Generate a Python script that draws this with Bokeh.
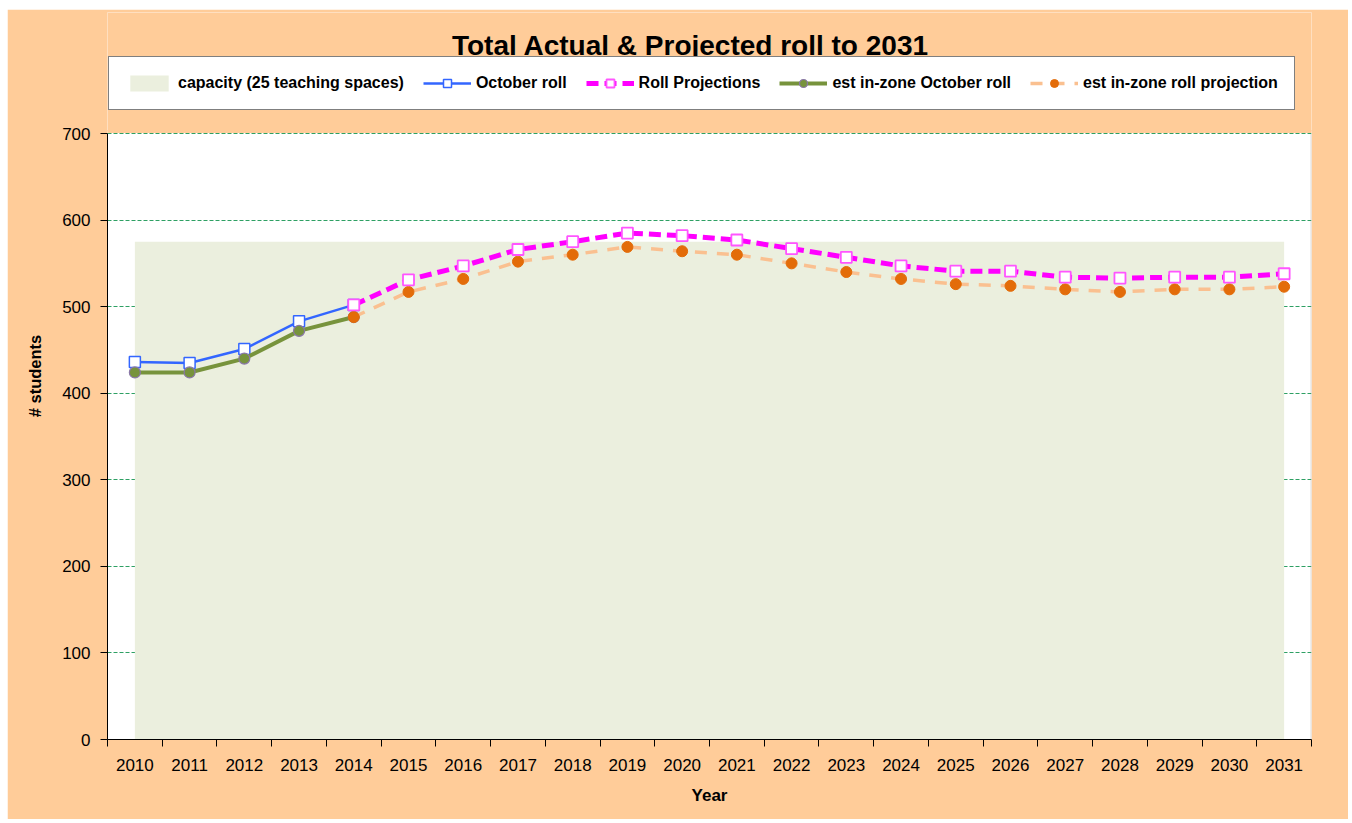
from bokeh.plotting import figure
from bokeh.models import Range1d, FixedTicker, Legend, LegendItem, Label, BoxAnnotation
from bokeh.embed import file_html
from bokeh.resources import INLINE

# ---- data ----
years = [2010, 2011, 2012, 2013, 2014, 2015, 2016, 2017, 2018, 2019, 2020,
         2021, 2022, 2023, 2024, 2025, 2026, 2027, 2028, 2029, 2030, 2031]
capacity = [575, 575, 575, 575, 575, 575, 575, 575, 575, 575, 575,
            575, 575, 575, 575, 575, 575, 575, 575, 575, 575, 575]

actual_years = [2010, 2011, 2012, 2013, 2014]
october_roll = [436, 435, 451, 483, 502]
inzone_october_roll = [424, 424, 440, 472, 488]

proj_years = [2014, 2015, 2016, 2017, 2018, 2019, 2020, 2021, 2022,
              2023, 2024, 2025, 2026, 2027, 2028, 2029, 2030, 2031]
roll_projections = [502, 531, 547, 566, 575, 585, 582, 577, 567,
                    557, 547, 541, 541, 534, 533, 534, 534, 538]
inzone_projection = [488, 517, 532, 552, 560, 569, 564, 560, 550,
                     540, 532, 526, 524, 520, 517, 520, 520, 523]

y_ticks = [0, 100, 200, 300, 400, 500, 600, 700]

FONT = "Liberation Sans"
ORANGE = "#FFCC99"

# layout (pixels): plot area 1204 x 606, with 121 px of header space
# kept inside the frame above the value 700 for the title and legend
Y_MAX = 700
PLOT_H = 606
HEADER_H = 121
y_top = Y_MAX + HEADER_H * Y_MAX / PLOT_H
px = Y_MAX / PLOT_H  # data units per pixel
x_lo = years[0] - 0.5
x_hi = years[-1] + 0.5

p = figure(frame_width=1204, frame_height=PLOT_H + HEADER_H,
           x_range=Range1d(x_lo, x_hi),
           y_range=Range1d(0, y_top),
           output_backend="svg", toolbar_location=None,
           margin=(9, 0, 0, 7),
           min_border_left=100, min_border_right=37,
           min_border_top=3, min_border_bottom=80,
           border_fill_color=ORANGE, background_fill_color="white",
           outline_line_color=None)

# grid
p.xgrid.visible = False
p.ygrid.ticker = FixedTicker(ticks=y_ticks)
p.ygrid.grid_line_color = "#2EA064"
p.ygrid.grid_line_dash = "4 2"
p.ygrid.grid_line_width = 1

# header region (above 700) painted like the chart border
p.quad(left=[x_lo - 1], right=[x_hi + 1], bottom=[Y_MAX + 2 * px], top=[y_top + 20 * px],
       fill_color=ORANGE, fill_alpha=1, line_color=ORANGE, line_width=3)

# capacity area
r_cap = p.varea(x=years, y1=0, y2=capacity, fill_color="#EBEFDE", fill_alpha=1)

# October roll
r_oct_l = p.line(actual_years, october_roll, line_color="#3366FF", line_width=2.5)
r_oct_m = p.scatter(actual_years, october_roll, marker="square", size=11,
                    fill_color="white", line_color="#3366FF", line_width=1.5)

# est in-zone October roll
r_iz_l = p.line(actual_years, inzone_october_roll, line_color="#77933C", line_width=4)
r_iz_m = p.scatter(actual_years, inzone_october_roll, marker="circle", size=11,
                   fill_color="#77933C", line_color="#8A78A8", line_width=1.2)

# est in-zone roll projection
r_izp_l = p.line(proj_years, inzone_projection, line_color="#FAC090", line_width=3.5,
                 line_dash="12 10")
r_izp_m = p.scatter(proj_years, inzone_projection, marker="circle", size=11,
                    fill_color="#E36C09", line_color="#E36C09", line_width=1)

# Roll projections
r_rp_l = p.line(proj_years, roll_projections, line_color="#FF00FF", line_width=5,
                line_dash="12 6")
r_rp_m = p.scatter(proj_years, roll_projections, marker="square", size=11,
                   fill_color="white", line_color="#FF55FF", line_width=1.8)

# right edge of the plot area
p.add_layout(BoxAnnotation(left=x_hi, bottom=0, top=Y_MAX,
                           fill_alpha=0, line_color="#8C8C8C", line_width=2))

# axes
xa = p.xaxis[0]
xa.ticker = FixedTicker(ticks=years, minor_ticks=[y - 0.5 for y in years] + [x_hi])
xa.major_tick_line_color = None
xa.major_tick_out = 0
xa.major_tick_in = 0
xa.minor_tick_out = 7
xa.minor_tick_in = 0
xa.minor_tick_line_color = "black"
xa.major_label_standoff = 12
xa.major_label_text_font = FONT
xa.major_label_text_font_size = "17px"
xa.major_label_text_color = "black"
xa.axis_line_color = "black"
xa.axis_label = "Year"
xa.axis_label_text_font = FONT
xa.axis_label_text_font_style = "bold"
xa.axis_label_text_font_size = "17px"
xa.axis_label_text_color = "black"
xa.axis_label_standoff = 12

ya = p.yaxis[0]
ya.ticker = FixedTicker(ticks=y_ticks)
ya.bounds = (0, Y_MAX)
ya.major_tick_out = 7
ya.major_tick_in = 0
ya.minor_tick_line_color = None
ya.major_tick_line_color = "black"
ya.major_label_standoff = 10
ya.major_label_text_font = FONT
ya.major_label_text_font_size = "17px"
ya.major_label_text_color = "black"
ya.axis_line_color = "black"
ya.axis_label = "# students"
ya.axis_label_text_font = FONT
ya.axis_label_text_font_style = "bold"
ya.axis_label_text_font_size = "16.5px"
ya.axis_label_text_color = "black"
ya.axis_label_standoff = 15

# legend (inside the header region of the frame)
legend = Legend(items=[
    LegendItem(label="capacity (25 teaching spaces)", renderers=[r_cap]),
    LegendItem(label="October roll", renderers=[r_oct_l, r_oct_m]),
    LegendItem(label="Roll Projections", renderers=[r_rp_l, r_rp_m]),
    LegendItem(label="est in-zone October roll", renderers=[r_iz_l, r_iz_m]),
    LegendItem(label="est in-zone roll projection", renderers=[r_izp_l, r_izp_m]),
], orientation="horizontal", location=(1, 629),
    label_text_font=FONT, label_text_font_style="bold", label_text_font_size="16px",
    label_text_color="black",
    glyph_width=48, glyph_height=20, label_standoff=5, spacing=19,
    padding=16, margin=0,
    border_line_color="black", border_line_width=1,
    background_fill_color="white", background_fill_alpha=1)
p.add_layout(legend)

# title
p.add_layout(Label(x=583, y=694, x_units="screen", y_units="screen",
                   text="Total Actual & Projected roll to 2031",
                   text_align="center", text_baseline="middle",
                   text_font=FONT, text_font_style="bold", text_font_size="28px",
                   text_color="black"))

open("out.html", "w").write(file_html(p, INLINE))
